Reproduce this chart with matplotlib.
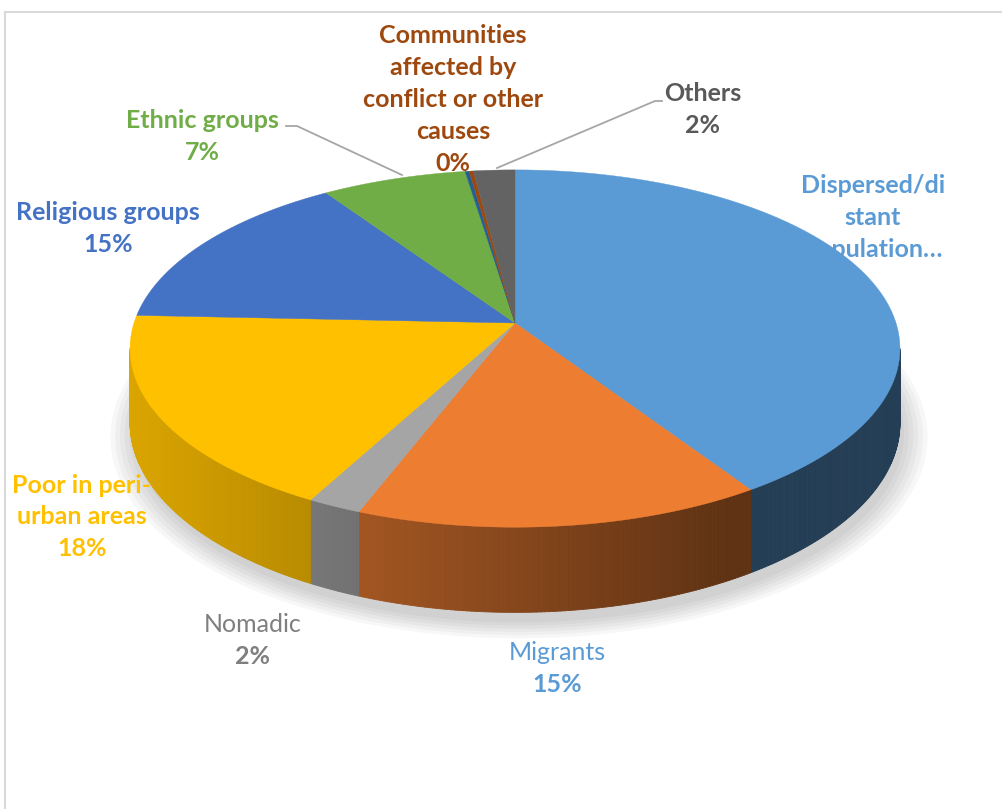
import numpy as np
import matplotlib.pyplot as plt
from matplotlib.collections import PolyCollection
from matplotlib.colors import to_rgb

# data (clockwise from 12 o'clock, like the Excel pie)
categories = ["Dispersed/di\nstant\npopulation\u2026", "Migrants", "Nomadic",
              "Poor in peri-\nurban areas", "Religious groups", "Ethnic groups",
              "", "Communities\naffected by\nconflict or other\ncauses", "Others"]
values = [41, 15, 2, 18, 15, 7, 0.2, 0.2, 2]
colors = ["#5B9BD5", "#ED7D31", "#A5A5A5", "#FFC000", "#4472C4", "#70AD47",
          "#255E91", "#9E480E", "#636363"]
label_colors = ["#5B9BD5", "#5B9BD5", "#7F7F7F", "#FFC000", "#4472C4", "#70AD47",
                None, "#9E480E", "#595959"]
name_bold = [True, False, False, True, True, True, True, True, True]
show_pct = [False, True, True, True, True, True, False, True, True]  # dispersed label is cut off
# label centre of first line (pixels)
label_pos = [(873, 185), (557, 652), (253, 625), (82, 485), (108, 212), (202, 120),
             None, (453, 35), (703, 93)]

# pie geometry in pixels
cx, cy = 515, 323
A, B, k, D = 381, 175, 0.143, 73

W, H = 1003, 809
fig = plt.figure(figsize=(W / 100, H / 100), dpi=100)
ax = fig.add_axes([0, 0, 1, 1])
ax.set_xlim(0, W)
ax.set_ylim(H, 0)
ax.axis("off")


def proj(phi, r=1.0, z=0.0):
    u = r * np.sin(phi)
    v = r * np.cos(phi)
    s = 1.0 / (1.0 + k * v)
    return cx + A * u * s, cy - B * v * s + z * D * s


frac = np.array(values) / sum(values)
edges = np.concatenate([[0], np.cumsum(frac)]) * 2 * np.pi

# soft shadow under the pie
ph = np.linspace(0, 2 * np.pi, 300)
for g in np.linspace(1.06, 1.0, 6):
    xs, ys = proj(ph, g, 1.0)
    ax.fill(xs + 4, ys + 10 * g, color="#000000", alpha=0.03, lw=0, zorder=1)

line_h = 32


def draw_label(i, z):
    x, y = label_pos[i]
    lines = categories[i].split("\n")
    for j, ln in enumerate(lines):
        ax.text(x, y + j * line_h, ln, ha="center", va="center", fontsize=18,
                fontweight="bold" if name_bold[i] else "normal",
                color=label_colors[i], family="Lato", zorder=z)
    if show_pct[i]:
        ax.text(x, y + len(lines) * line_h, f"{values[i]:.0f}%", ha="center", va="center",
                fontsize=18, fontweight="bold", color=label_colors[i], family="Lato", zorder=z)


# Dispersed label sits under the pie (partly hidden)
draw_label(0, 0.5)

# side wall (front half only), shaded darker to the right
lo = np.arccos(-k)
hi = 2 * np.pi - lo
polys, fcs = [], []
for i in range(len(values)):
    a0, a1 = max(edges[i], lo), min(edges[i + 1], hi)
    if a1 <= a0:
        continue
    n = max(2, int((a1 - a0) / np.radians(0.5)))
    t = np.linspace(a0, a1, n + 1)
    base = np.array(to_rgb(colors[i]))
    for p, q in zip(t[:-1], t[1:]):
        x0, y0 = proj(p)
        x1, y1 = proj(q)
        x2, y2 = proj(q, 1, 1)
        x3, y3 = proj(p, 1, 1)
        polys.append([(x0, y0), (x1, y1), (x2, y2), (x3, y3)])
        xm = (x0 + x1) / 2
        f = 0.86 - 0.46 * np.clip((xm - 130) / 600, 0, 1)
        fcs.append(base * f)
ax.add_collection(PolyCollection(polys, facecolors=fcs, edgecolors=fcs, lw=0.6, zorder=2))

# top faces
for i in range(len(values)):
    t = np.linspace(edges[i], edges[i + 1], max(3, int(frac[i] * 400)))
    xs, ys = proj(t)
    ax.fill(np.r_[cx, xs], np.r_[cy, ys], color=colors[i], lw=0.3, ec=colors[i], zorder=3)

# leader lines
ax.plot([286, 297, 402], [126, 126, 175], color="#A6A6A6", lw=1.3, zorder=4)
ax.plot([662, 655, 497], [101, 101, 168], color="#A6A6A6", lw=1.3, zorder=4)

for i in range(1, len(values)):
    if label_pos[i] is not None:
        draw_label(i, 5)

# chart area border
ax.plot([5, 5], [H, 12], color="#D9D9D9", lw=1.5, zorder=0)
ax.plot([5, W], [12, 12], color="#D9D9D9", lw=1.5, zorder=0)

fig.savefig("out.png", dpi=100)
